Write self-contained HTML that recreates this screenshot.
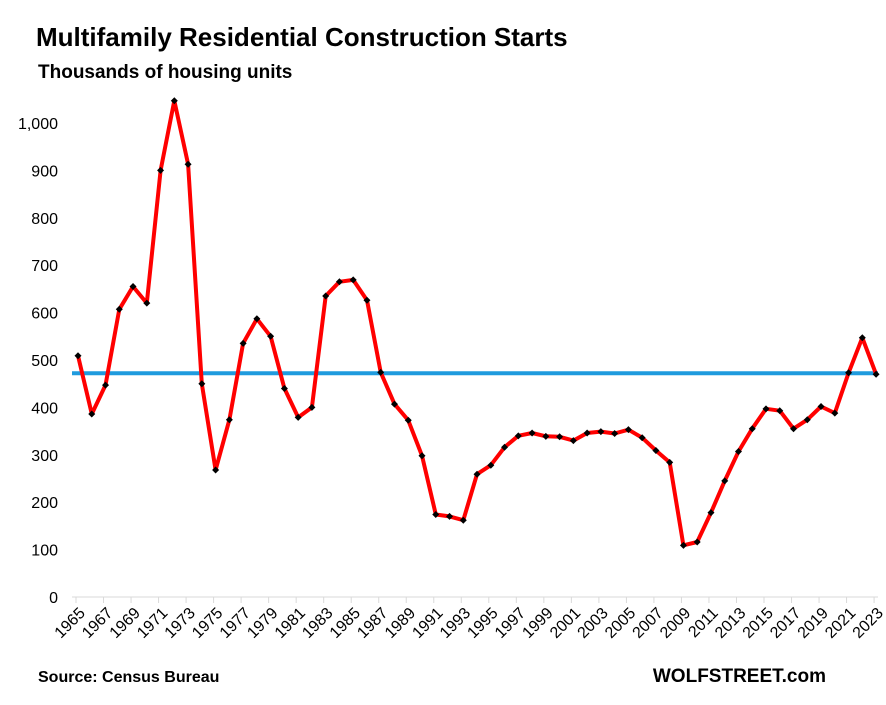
<!DOCTYPE html>
<html><head><meta charset="utf-8"><style>
body{margin:0;background:#fff;}
svg text{font-family:"Liberation Sans",Arial,sans-serif;}
</style></head><body>
<svg id="c" width="886" height="700" xmlns="http://www.w3.org/2000/svg">
<rect width="886" height="700" fill="#fff"/>
<text x="36" y="46" font-size="26" font-weight="bold" fill="#000">Multifamily Residential Construction Starts</text>
<text x="38" y="78" font-size="19" font-weight="bold" fill="#000">Thousands of housing units</text>
<text x="38" y="682" font-size="16" font-weight="bold" fill="#000">Source: Census Bureau</text>
<text x="826" y="682" font-size="19" font-weight="bold" fill="#000" text-anchor="end">WOLFSTREET.com</text>
<line x1="72" y1="597" x2="878" y2="597" stroke="#d9d9d9" stroke-width="1"/>
<g id="g"></g>
</svg>
<script>
var d=[509,386,447,607,655,620,900,1047,913,450,268,374,535,587,550,440,379,400,635,665,669,626,474,407,373,298,174,170,162,259,278,316,340,346,339,338,330,346,349,345,353,336,309,284,109,116,178,245,307,355,397,393,355,374,402,388,473,547,470];
var g=document.getElementById('g'),s='';
function X(i){return 78+i*13.76;}
function Y(v){return 597-v*0.474;}
for(var v=0;v<=1000;v+=100){s+='<text x="58" y="'+(Y(v)+6)+'" font-size="16" text-anchor="end">'+(v==1000?'1,000':v)+'</text>';}
for(var i=0;i<59;i+=2){var tx=X(i)-2;s+='<line x1="'+tx+'" y1="597" x2="'+tx+'" y2="603" stroke="#d9d9d9"/>';var x=X(i)+8,y=614;s+='<text transform="translate('+x+','+y+') rotate(-45)" font-size="16" text-anchor="end">'+(1965+i)+'</text>';}
s+='<line x1="72" y1="'+Y(472)+'" x2="878" y2="'+Y(472)+'" stroke="#1f9bde" stroke-width="4"/>';
var p=d.map(function(v,i){return X(i).toFixed(1)+','+Y(v).toFixed(1);}).join(' ');
s+='<polyline points="'+p+'" fill="none" stroke="#ff0000" stroke-width="4" stroke-linejoin="round"/>';
d.forEach(function(v,i){var x=X(i),y=Y(v);s+='<polygon points="'+x+','+(y-3.5)+' '+(x+3.5)+','+y+' '+x+','+(y+3.5)+' '+(x-3.5)+','+y+'" fill="#000"/>';});
g.innerHTML=s;
</script>
</body></html>
